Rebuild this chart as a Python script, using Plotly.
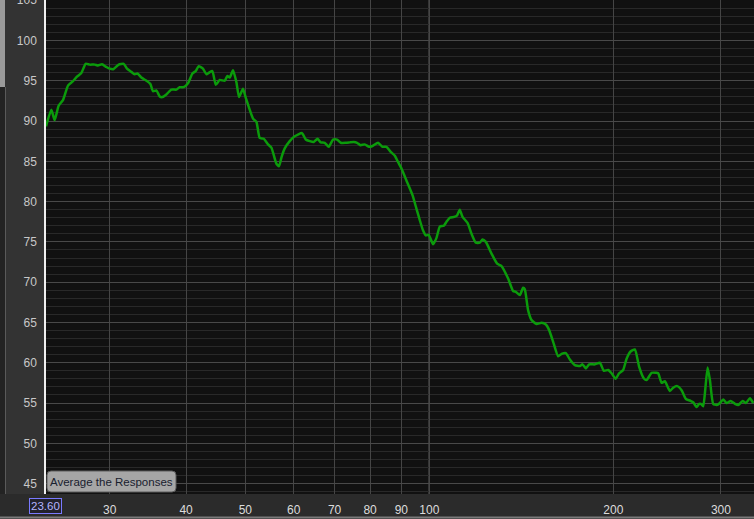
import math
import plotly.graph_objects as go

# Frequency response (Hz, dB SPL)
freq_hz = [
    23.6, 24.08, 24.38, 24.75, 25.16, 25.64, 26.12, 26.52, 26.96, 27.40,
    27.82, 28.35, 28.70, 29.14, 29.63, 30.00, 30.45, 31.03, 31.62, 32.02,
    32.55, 32.96, 33.30, 33.80, 34.45, 34.97, 35.31, 35.77, 36.22, 36.59,
    37.14, 37.85, 38.57, 39.05, 39.64, 40.29, 40.97, 41.48, 41.95, 42.63,
    43.19, 43.61, 44.17, 44.73, 45.41, 46.27, 46.74, 47.15, 47.74, 48.36,
    48.83, 49.57, 50.08, 51.48, 52.14, 52.79, 53.60, 54.47, 55.17, 56.22,
    56.78, 57.30, 58.01, 59.11, 60.24, 61.92, 62.79, 63.74, 64.71, 65.62,
    66.44, 67.45, 68.47, 69.59, 70.64, 71.64, 73.00, 74.11, 75.24, 76.18,
    77.16, 78.42, 79.70, 80.73, 82.45, 83.83, 85.10, 86.40, 87.81, 88.91,
    90.05, 91.77, 93.87, 95.29, 96.48, 97.69, 98.69, 99.70, 100.45, 101.44,
    102.75, 104.04, 105.61, 106.70, 108.03, 109.80, 111.05, 112.18, 113.33, 115.49,
    117.24, 119.15, 120.96, 122.20, 123.73, 126.42, 129.11, 131.27, 134.58, 137.13,
    138.54, 140.65, 142.40, 143.32, 145.11, 146.98, 149.78, 152.62, 155.12, 157.07,
    159.45, 162.49, 164.58, 167.27, 169.81, 173.03, 176.33, 178.12, 180.36, 182.61,
    186.58, 190.12, 193.01, 196.17, 198.69, 201.71, 204.47, 207.57, 210.26, 213.44,
    216.93, 220.47, 224.43, 226.71, 231.03, 234.80, 236.83, 239.90, 242.90, 247.51,
    250.62, 254.43, 258.67, 262.90, 267.91, 270.25, 273.74, 276.43, 278.21, 280.61,
    282.42, 285.31, 287.80, 291.40, 295.15, 298.86, 302.59, 306.49, 311.15, 316.23,
    320.18, 325.54, 329.63, 334.62, 338.83,
]
spl_db = [
    89.34, 91.4, 90.1, 91.9, 92.6, 94.4, 94.95, 95.5, 95.95, 97.1,
    97.0, 97.0, 96.9, 97.06, 96.7, 96.5, 96.45, 97.0, 97.1, 96.5,
    96.1, 95.8, 95.9, 95.4, 95.0, 94.6, 93.7, 93.8, 93.05, 92.97,
    93.3, 93.9, 93.9, 94.2, 94.2, 94.7, 95.9, 96.2, 96.8, 96.5,
    95.8, 96.0, 96.2, 94.5, 95.1, 95.0, 95.6, 95.4, 96.3, 94.8,
    92.97, 94.0, 92.9, 90.3, 89.9, 87.9, 87.8, 87.1, 86.7, 84.7,
    84.4, 85.5, 86.6, 87.5, 88.1, 88.5, 87.7, 87.5, 87.4, 87.8,
    87.35, 87.3, 86.8, 87.7, 87.7, 87.3, 87.3, 87.35, 87.4, 87.3,
    87.0, 87.1, 86.8, 86.9, 87.3, 86.8, 86.8, 86.2, 85.7, 84.9,
    84.1, 82.6, 80.8, 79.1, 77.7, 76.4, 75.8, 75.9, 75.4, 74.7,
    75.5, 76.9, 77.0, 77.5, 78.0, 78.1, 78.3, 79.0, 78.1, 77.35,
    76.0, 74.9, 74.9, 75.3, 75.0, 73.55, 72.3, 72.0, 70.45, 68.9,
    68.8, 68.4, 69.3, 69.1, 66.5, 65.3, 64.8, 64.95, 64.75, 64.05,
    62.6, 60.8, 61.1, 61.2, 60.4, 59.7, 59.6, 59.8, 59.3, 59.8,
    59.8, 60.0, 59.0, 59.1, 58.7, 58.0, 58.7, 59.1, 60.5, 61.4,
    61.65, 59.5, 58.05, 57.85, 58.75, 58.75, 58.7, 57.5, 57.7, 56.5,
    56.9, 57.1, 56.6, 55.5, 55.25, 55.1, 54.5, 54.9, 54.9, 54.6,
    56.2, 59.4, 57.85, 54.9, 54.75, 55.0, 55.45, 55.0, 55.25, 54.9,
    54.75, 55.25, 55.0, 55.6, 55.0,
]

x_tick_vals = [30, 40, 50, 60, 70, 80, 90, 100, 200, 300]
x_tick_text = ["30", "40", "50", "60", "70", "80", "90", "100", "200", "300"]
y_tick_vals = [45, 50, 55, 60, 65, 70, 75, 80, 85, 90, 95, 100, 105]
x_min, x_max = 23.6, 339.8
y_min, y_max = 43.71, 105.02

W, H = 754, 519
ML, MB = 46, 25
PW, PH = W - ML, H - MB


def px(xp):
    return (xp - ML) / PW


def py(yp):
    return (PH - yp) / PH


FONT = "Liberation Sans, Arial, sans-serif"

fig = go.Figure()
fig.add_trace(go.Scatter(
    x=freq_hz, y=spl_db, mode="lines",
    line=dict(color="#0b9b0b", width=2.5, shape="spline", smoothing=0.5),
    hoverinfo="skip", showlegend=False,
))

shapes = []
# left panel background
shapes.append(dict(type="rect", xref="paper", yref="paper",
                   x0=px(0), x1=px(45), y0=py(494), y1=1,
                   fillcolor="#333333", line=dict(width=0), layer="below"))
# scrollbar strip on the far left
shapes.append(dict(type="rect", xref="paper", yref="paper",
                   x0=px(0), x1=px(5), y0=py(87), y1=1,
                   fillcolor="#9a9a9a", line=dict(width=0), layer="below"))
shapes.append(dict(type="rect", xref="paper", yref="paper",
                   x0=px(0), x1=px(5), y0=py(494), y1=py(87),
                   fillcolor="#232323", line=dict(width=0), layer="below"))
shapes.append(dict(type="line", xref="paper", yref="paper",
                   x0=px(5.5), x1=px(5.5), y0=py(494), y1=py(87),
                   line=dict(color="#5a5a5a", width=1), layer="below"))
# bottom border of the axis strip
shapes.append(dict(type="line", xref="paper", yref="paper",
                   x0=px(0), x1=1, y0=py(517.5), y1=py(517.5),
                   line=dict(color="#7a7a7a", width=2), layer="below"))
# highlighted 100 Hz gridline
shapes.append(dict(type="line", xref="x", yref="paper",
                   x0=100, x1=100, y0=0, y1=1,
                   line=dict(color="#c8c8c8", width=1), layer="below"))
# button (rounded rectangle)
bx0, bx1, by0, by1 = px(47), px(176), py(492), py(471)
rx, ry = 4 / PW, 4 / PH
path = (f"M {bx0+rx},{by0} L {bx1-rx},{by0} Q {bx1},{by0} {bx1},{by0+ry} "
        f"L {bx1},{by1-ry} Q {bx1},{by1} {bx1-rx},{by1} "
        f"L {bx0+rx},{by1} Q {bx0},{by1} {bx0},{by1-ry} "
        f"L {bx0},{by0+ry} Q {bx0},{by0} {bx0+rx},{by0} Z")
shapes.append(dict(type="path", xref="paper", yref="paper", path=path,
                   fillcolor="#a6a6a6", line=dict(color="#5c5c5c", width=1),
                   layer="above"))

annotations = [
    dict(xref="paper", yref="paper", x=(px(47) + px(176)) / 2, y=(py(492) + py(471)) / 2,
         text="Average the Responses", showarrow=False,
         font=dict(family=FONT, size=11.5, color="#18202e"),
         xanchor="center", yanchor="middle"),
    dict(xref="paper", yref="paper", x=px(45), y=py(506),
         text="23.60", showarrow=False,
         font=dict(family=FONT, size=11.5, color="#b4b4ff"),
         bordercolor="#7a7aff", borderwidth=1, borderpad=1, bgcolor="#22222c",
         xanchor="center", yanchor="middle"),
]

fig.update_layout(
    width=W, height=H, autosize=False,
    margin=dict(l=ML, r=0, t=0, b=MB, pad=0, autoexpand=False),
    paper_bgcolor="#2b2b2b", plot_bgcolor="#111111",
    font=dict(family=FONT, size=11.5, color="#d0d0d0"),
    shapes=shapes, annotations=annotations,
    xaxis=dict(
        type="log", range=[math.log10(x_min), math.log10(x_max)],
        tickmode="array", tickvals=x_tick_vals, ticktext=x_tick_text,
        showgrid=True, gridcolor="#454545", gridwidth=1,
        zeroline=False, showline=False, ticks="outside", ticklen=0,
        ticklabelstandoff=5, automargin=False,
        tickfont=dict(family=FONT, size=12, color="#dcdcdc"),
        fixedrange=True,
    ),
    yaxis=dict(
        range=[y_min, y_max], tickmode="array", tickvals=y_tick_vals,
        showgrid=True, gridcolor="#494949", gridwidth=1,
        minor=dict(dtick=1, showgrid=True, gridcolor="#292929", gridwidth=1),
        zeroline=False, showline=True, linecolor="#f0f0f0", linewidth=1.5,
        ticks="outside", ticklen=0, ticklabelstandoff=5, automargin=False,
        ticklabeloverflow="allow",
        tickfont=dict(family=FONT, size=12, color="#c8c8c8"),
        fixedrange=True,
    ),
)

fig.write_html(
    "out.html",
    config={"displayModeBar": False},
    post_script="document.body.style.margin='0';document.body.style.overflow='hidden';",
)
